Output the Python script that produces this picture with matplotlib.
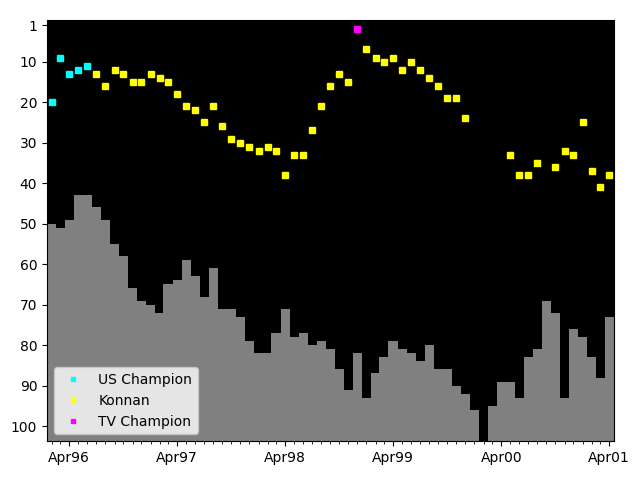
import numpy as np
import pandas as pd
import matplotlib
matplotlib.use("Agg")
import matplotlib.pyplot as plt
import matplotlib.dates as mdates

# meses de Feb 1996 a Abr 2001
meses = pd.date_range("1996-02-01", "2001-04-01", freq="MS")

# barras grises (ranking mensual)
barras = [50, 51, 49, 43, 43, 46, 49, 55, 58, 66, 69,
          70, 72, 65, 64, 59, 63, 68, 61, 71, 71, 73, 79,
          82, 82, 77, 71, 78, 77, 80, 79, 81, 86, 91, 82,
          93, 87, 83, 79, 81, 82, 84, 80, 86, 86, 90, 92,
          96, np.nan, 95, 89, 89, 93, 83, 81, 69, 72, 93, 76,
          78, 83, 88, 73]

# puntos (posicion por mes)
puntos = [20, 9, 13, 12, 11, 13, 16, 12, 13, 15, 15,
          13, 14, 15, 18, 21, 22, 25, 21, 26, 29, 30, 31,
          32, 31, 32, 38, 33, 33, 27, 21, 16, 13, 15, 2,
          7, 9, 10, 9, 12, 10, 12, 14, 16, 19, 19, 24,
          np.nan, np.nan, np.nan, np.nan, 33, 38, 38, 35, np.nan, 36, 32, 33,
          25, 37, 41, 38]

# titulo de cada mes
titulo = (["US Champion"] * 5 + ["Konnan"] * 29 + ["TV Champion"]
          + ["Konnan"] * 28)

colores = {"US Champion": "cyan", "Konnan": "yellow", "TV Champion": "magenta"}

df = pd.DataFrame({"fecha": meses, "barra": barras, "punto": puntos, "titulo": titulo})

fig, ax = plt.subplots(figsize=(6.4, 4.8), dpi=100)
ax.set_facecolor("black")

fondo = 105
b = df.dropna(subset=["barra"])
ax.bar(b["fecha"], fondo - b["barra"], bottom=b["barra"], width=31,
       color="gray", align="center")

for t in ["US Champion", "Konnan", "TV Champion"]:
    d = df[df["titulo"] == t]
    ax.plot(d["fecha"], d["punto"], linestyle="none", marker="s", ms=4.5,
            color=colores[t], label=t)

ax.set_ylim(103.7, -0.35)
ax.set_yticks([1, 10, 20, 30, 40, 50, 60, 70, 80, 90, 100])
ax.set_xlim(meses[0] - pd.Timedelta(days=15.5), meses[-1] + pd.Timedelta(days=15.5))
ax.xaxis.set_major_locator(mdates.MonthLocator(bymonth=4))
ax.xaxis.set_major_formatter(mdates.DateFormatter("%b%y"))
ax.xaxis.set_minor_locator(mdates.MonthLocator())

ax.legend(loc="lower left", markerscale=0.7)
plt.subplots_adjust(left=0.0734, right=0.959, top=0.959, bottom=0.081)
plt.savefig("out.png")
